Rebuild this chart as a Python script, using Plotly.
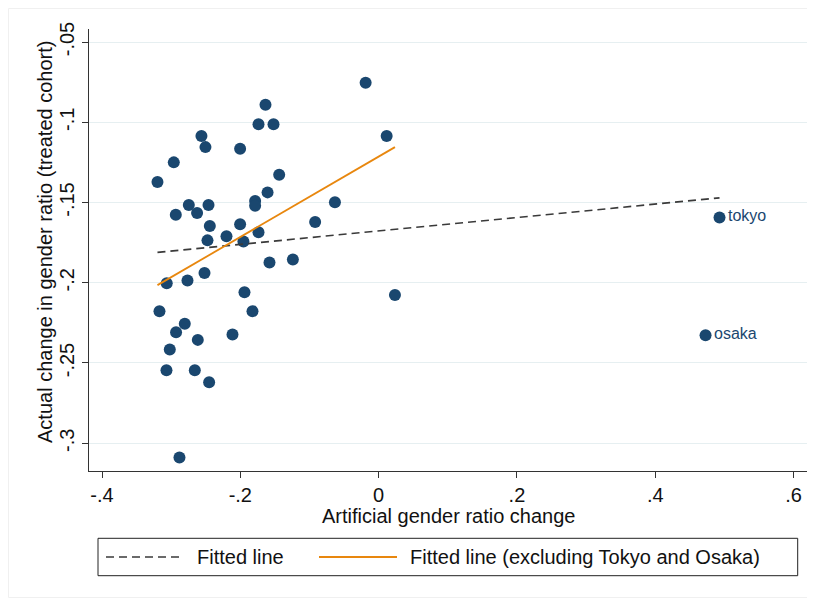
import plotly.graph_objects as go

# ---- data ----
pref_x = [-0.0188, -0.1636, -0.1737, -0.1520, 0.0116, -0.2562, -0.2504, -0.2003, -0.2962,
          -0.1438, -0.3198, -0.1606, -0.1786, -0.1786, -0.0632, -0.2745, -0.2460, -0.2933,
          -0.2625, -0.2441, -0.2003, -0.0918, -0.2200, -0.2475, -0.1955, -0.1737, -0.1578,
          -0.1240, -0.2518, -0.3064, -0.2764, -0.1940, 0.0236, -0.3169, -0.1824, -0.2803,
          -0.2929, -0.2615, -0.2113, -0.3020, -0.3068, -0.2658, -0.2451, -0.2880]
pref_y = [-0.0754, -0.0891, -0.1013, -0.1013, -0.1086, -0.1086, -0.1155, -0.1165, -0.1250,
          -0.1327, -0.1373, -0.1437, -0.1491, -0.1521, -0.1499, -0.1516, -0.1516, -0.1577,
          -0.1566, -0.1647, -0.1635, -0.1622, -0.1710, -0.1736, -0.1743, -0.1686, -0.1874,
          -0.1855, -0.1940, -0.2003, -0.1986, -0.2059, -0.2077, -0.2177, -0.2177, -0.2256,
          -0.2308, -0.2356, -0.2322, -0.2416, -0.2545, -0.2545, -0.2620, -0.3089]

outlier_names = ["tokyo", "osaka"]
outlier_x = [0.4929, 0.4727]
outlier_y = [-0.1593, -0.2327]

fit_all_x = [-0.3198, 0.4929]
fit_all_y = [-0.1811, -0.1471]
fit_excl_x = [-0.3198, 0.0236]
fit_excl_y = [-0.2015, -0.1155]

x_ticks = [-0.4, -0.2, 0, 0.2, 0.4, 0.6]
x_tick_labels = ["-.4", "-.2", "0", ".2", ".4", ".6"]
y_ticks = [-0.05, -0.1, -0.15, -0.2, -0.25, -0.3]
y_tick_labels = ["-.05", "-.1", "-.15", "-.2", "-.25", "-.3"]

NAVY = "#1a476f"
ORANGE = "#e8870e"
DASH = "#3a3a3a"
FONT = "Liberation Sans, Arial, sans-serif"
FS = 20

fig = go.Figure()
fig.add_trace(go.Scatter(x=pref_x, y=pref_y, mode="markers",
                         marker=dict(color=NAVY, size=12), showlegend=False))
fig.add_trace(go.Scatter(x=outlier_x, y=outlier_y, mode="markers+text", text=outlier_names,
                         textposition="middle right",
                         textfont=dict(color=NAVY, size=16, family=FONT),
                         marker=dict(color=NAVY, size=12), showlegend=False))
fig.add_trace(go.Scatter(x=fit_all_x, y=fit_all_y, mode="lines",
                         line=dict(color=DASH, width=1.6, dash="8px,5px"), showlegend=False))
fig.add_trace(go.Scatter(x=fit_excl_x, y=fit_excl_y, mode="lines",
                         line=dict(color=ORANGE, width=1.8), showlegend=False))

# The page body adds an 8px offset; work in page pixels and convert.
OFF = 8
FIG_W, FIG_H = 815 - OFF, 598 - OFF
L, R, T, B = 89, 807, 29, 471          # plot area in page pixels
W, H = R - L, B - T
def px(xp):
    return (xp - L) / W
def py(yp):
    return (B - yp) / H

shapes = [
    dict(type="rect", xref="paper", yref="paper", x0=px(8.5), x1=px(814.5), y0=py(597.5), y1=py(8.5),
         line=dict(color="#f0f0f0", width=1), layer="below"),
    dict(type="rect", xref="paper", yref="paper", x0=px(98), x1=px(797.7), y0=py(575.7), y1=py(538.3),
         line=dict(color="#222222", width=1), fillcolor="white"),
    dict(type="line", xref="paper", yref="paper", x0=px(106), x1=px(184), y0=py(557), y1=py(557),
         line=dict(color=DASH, width=1.6, dash="8px,5px")),
    dict(type="line", xref="paper", yref="paper", x0=px(319), x1=px(397), y0=py(557), y1=py(557),
         line=dict(color=ORANGE, width=1.8)),
]
annotations = [
    dict(xref="paper", yref="paper", x=px(195), y=py(557), text="Fitted line", showarrow=False,
         xanchor="left", yanchor="middle", font=dict(size=FS, color="#111111", family=FONT)),
    dict(xref="paper", yref="paper", x=px(408), y=py(557),
         text="Fitted line (excluding Tokyo and Osaka)", showarrow=False,
         xanchor="left", yanchor="middle", font=dict(size=FS, color="#111111", family=FONT)),
    dict(xref="paper", yref="paper", x=px(448), y=py(516), text="Artificial gender ratio change",
         showarrow=False, xanchor="center", yanchor="middle",
         font=dict(size=FS, color="#111111", family=FONT)),
    dict(xref="paper", yref="paper", x=px(45), y=py(242),
         text="Actual change in gender ratio (treated cohort)", textangle=-90,
         showarrow=False, xanchor="center", yanchor="middle",
         font=dict(size=FS, color="#111111", family=FONT)),
]

fig.update_layout(
    width=FIG_W, height=FIG_H,
    margin=dict(l=L - OFF, r=815 - R, t=T - OFF, b=598 - B, autoexpand=False),
    paper_bgcolor="white", plot_bgcolor="white",
    font=dict(family=FONT, size=FS, color="#111111"),
    shapes=shapes, annotations=annotations,
    xaxis=dict(range=[-0.4188, 0.6194], tickvals=x_ticks, ticktext=x_tick_labels,
               automargin=False,
               showgrid=False, zeroline=False, showline=True, linecolor="#333333", linewidth=1.2,
               ticks="outside", ticklen=6, tickcolor="#333333", tickwidth=1.2,
               tickfont=dict(size=FS)),
    yaxis=dict(range=[-0.3173, -0.0419], tickvals=y_ticks, ticktext=y_tick_labels,
               tickangle=-90, automargin=False,
               showgrid=True, gridcolor="#e6eff1", gridwidth=1.2,
               zeroline=False, showline=True, linecolor="#333333", linewidth=1.2,
               ticks="outside", ticklen=6, tickcolor="#333333", tickwidth=1.2,
               tickfont=dict(size=FS)),
)

fig.write_html("out.html")
